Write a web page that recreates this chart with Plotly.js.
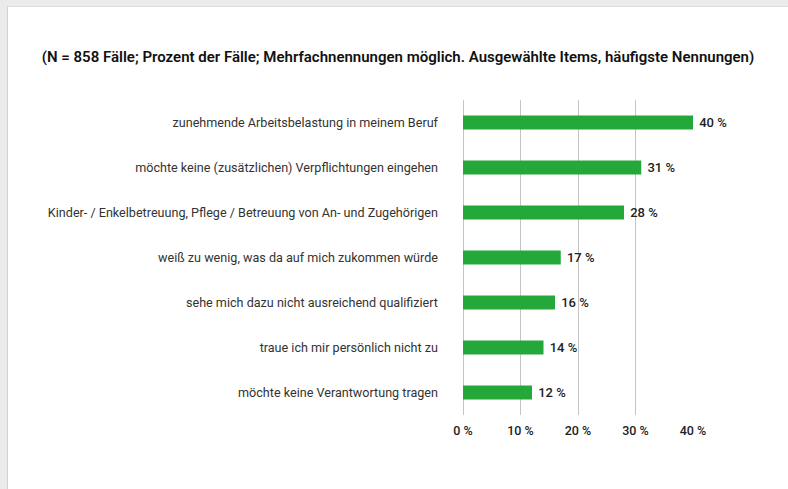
<!DOCTYPE html>
<html>
<head>
<meta charset="utf-8">
<script src="https://cdn.plot.ly/plotly-3.0.1.min.js"></script>
<style>
html, body { margin: 0; padding: 0; background: #ebebeb; width: 788px; height: 489px; overflow: hidden; }
#frame { position: absolute; left: 7px; top: 6px; width: 781px; height: 483px; background: #ffffff; border-left: 1px solid #d2d2d2; border-top: 1px solid #dcdcdc; }
#chart { position: absolute; left: 0; top: 0; width: 780px; height: 482px; }
</style>
</head>
<body>
<div id="frame"><div id="chart"></div></div>
<script>
const categories = [
  "zunehmende Arbeitsbelastung in meinem Beruf",
  "möchte keine (zusätzlichen) Verpflichtungen eingehen",
  "Kinder- / Enkelbetreuung, Pflege / Betreuung von An- und Zugehörigen",
  "weiß zu wenig, was da auf mich zukommen würde",
  "sehe mich dazu nicht ausreichend qualifiziert",
  "traue ich mir persönlich nicht zu",
  "möchte keine Verantwortung tragen"
];
const values = [40, 31, 28, 17, 16, 14, 12];
const tickValues = [0, 10, 20, 30, 40];
const tickLabels = ["0 %", "10 %", "20 %", "30 %", "40 %"];
const titleText = "(N = 858 Fälle; Prozent der Fälle; Mehrfachnennungen möglich. Ausgewählte Items, häufigste Nennungen)";

const trace = {
  type: "bar",
  orientation: "h",
  y: categories,
  x: values,
  width: 0.31,
  marker: { color: "#25a83a", line: { width: 0 } },
  text: values.map(v => " " + v + " %"),
  textposition: "outside",
  cliponaxis: false,
  constraintext: "none",
  textfont: { family: "Roboto, sans-serif", size: 13, color: "#222222", weight: 500 },
  hoverinfo: "none"
};

const layout = {
  width: 780,
  height: 482,
  margin: { l: 455, r: 95, t: 93, b: 74 },
  paper_bgcolor: "#ffffff",
  plot_bgcolor: "#ffffff",
  showlegend: false,
  title: {
    text: titleText,
    font: { family: "Roboto, sans-serif", size: 15, color: "#111111", weight: 600 },
    xref: "container", x: 0.5, xanchor: "center",
    yref: "container", y: 1 - 50 / 482, yanchor: "middle"
  },
  xaxis: {
    range: [0, 40],
    tickvals: tickValues,
    ticktext: tickLabels,
    showgrid: true,
    gridcolor: "#c4c4c4",
    gridwidth: 1,
    zeroline: true,
    zerolinecolor: "#c4c4c4",
    zerolinewidth: 1,
    showline: false,
    ticks: "",
    ticklabelstandoff: 6,
    tickfont: { family: "Roboto, sans-serif", size: 12.5, color: "#222222", weight: 500 },
    fixedrange: true
  },
  yaxis: {
    type: "category",
    categoryorder: "array",
    categoryarray: categories,
    autorange: "reversed",
    showgrid: false,
    zeroline: false,
    showline: false,
    ticks: "",
    ticklabelstandoff: 24,
    tickfont: { family: "Roboto, sans-serif", size: 12.6, color: "#333333" },
    fixedrange: true
  }
};

Plotly.newPlot("chart", [trace], layout, { displayModeBar: false, staticPlot: true });
</script>
</body>
</html>
